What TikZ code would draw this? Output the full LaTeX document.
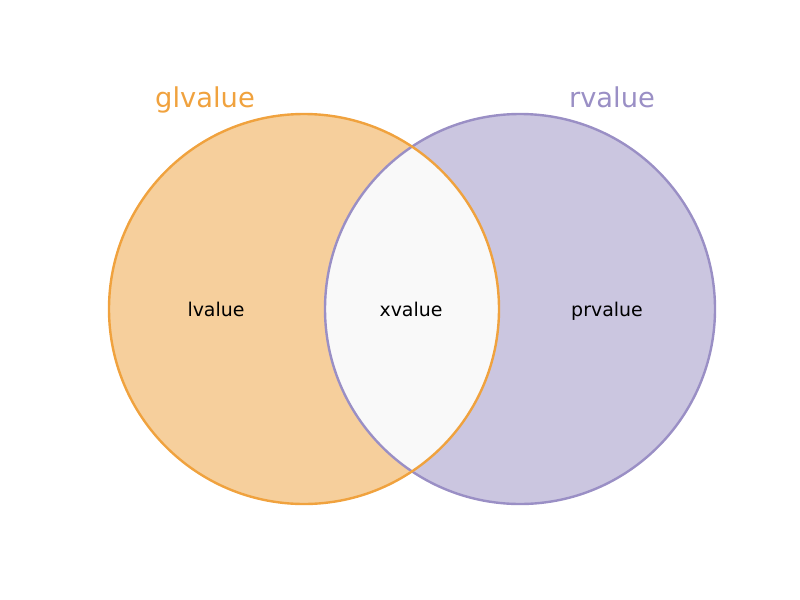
\documentclass[tikz,border=0pt]{standalone}
\usepackage{fontspec}
\setmainfont{DejaVu Sans}

\definecolor{glEdge}{HTML}{F0A23E}
\definecolor{glFill}{HTML}{F6CF9C}
\definecolor{rvEdge}{HTML}{9A8FC5}
\definecolor{rvFill}{HTML}{CBC6E0}
\definecolor{xvFill}{HTML}{F9F9F9}

\begin{document}
\begin{tikzpicture}[x = 0.75pt, y = -0.75pt,
    setcircle/.style = {shape = circle, minimum size = 292.5pt, inner sep = 0pt, line width = 1.8pt},
    setname/.style = {inner sep = 0pt, anchor = base, font = \fontsize{20.5}{24}\selectfont},
    region/.style = {inner sep = 0pt, anchor = base, font = \fontsize{14.2}{17}\selectfont}]
    \useasboundingbox (0,0) rectangle (800,600);
    \node [setcircle, fill = glFill] (GL) at (304,309) {};
    \node [setcircle, fill = rvFill] (RV) at (520,309) {};
    \begin{scope}
        \clip (304,309) circle [radius = 195];
        \fill [xvFill] (520,309) circle [radius = 195];
    \end{scope}
    \node [setcircle, draw = rvEdge] at (RV) {};
    \node [setcircle, draw = glEdge] at (GL) {};
    \node [setname, text = glEdge] (GLV) at (205,107) {glvalue};
    \node [setname, text = rvEdge] (RVV) at (612,107) {rvalue};
    \node [region] (LV) at (216,316) {lvalue};
    \node [region] (XV) at (411,316) {xvalue};
    \node [region] (PRV) at (607,316) {prvalue};
\end{tikzpicture}
\end{document}
